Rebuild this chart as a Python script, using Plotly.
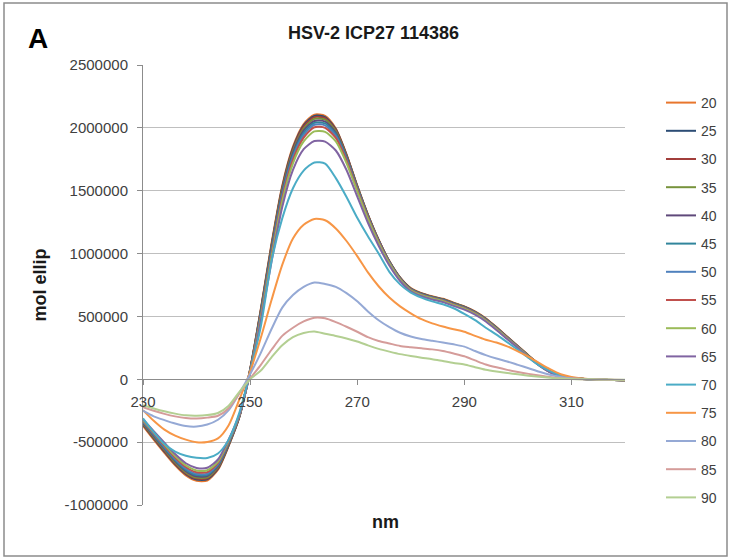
import plotly.graph_objects as go

# wavelength grid (nm)
wavelength = list(range(230, 321, 2))

# temperatures (legend labels)
temps = ["20", "25", "30", "35", "40", "45", "50", "55", "60", "65", "70", "75", "80", "85", "90"]

# molar ellipticity values, in thousands
s20 = [-370,-480,-585,-685,-765,-808,-805,-720,-530,-300,80,560,1080,1540,1850,2030,2105,2095,1995,1790,1540,1310,1110,940,810,725,685,660,640,610,580,540,485,415,340,265,190,120,65,30,12,4,0,-4,-6,-8]
s25 = [-360,-470,-575,-675,-755,-798,-796,-712,-525,-298,78,552,1068,1528,1838,2020,2095,2085,1988,1785,1538,1308,1108,938,808,722,682,657,637,607,577,537,482,412,337,262,188,118,63,29,11,4,0,-4,-6,-8]
s30 = [-355,-465,-568,-668,-748,-790,-788,-705,-520,-296,75,545,1058,1518,1828,2010,2085,2077,1982,1780,1535,1306,1106,936,806,720,680,655,635,605,575,535,480,410,335,260,186,117,62,28,11,4,0,-4,-6,-8]
s35 = [-350,-458,-560,-660,-740,-782,-780,-698,-515,-294,72,538,1048,1505,1815,1995,2072,2065,1972,1772,1530,1302,1103,934,805,719,679,654,634,604,574,534,479,409,334,259,185,116,61,28,11,4,0,-4,-6,-8]
s40 = [-345,-450,-552,-650,-730,-772,-770,-690,-510,-292,68,528,1035,1490,1800,1978,2055,2050,1960,1765,1525,1298,1100,932,803,717,677,652,632,602,572,532,477,407,332,258,184,115,60,27,10,3,0,-4,-6,-8]
s45 = [-340,-443,-545,-642,-720,-762,-760,-682,-505,-290,65,520,1022,1475,1782,1960,2040,2035,1948,1758,1520,1294,1097,930,801,715,675,650,630,600,570,530,476,406,331,257,183,114,60,27,10,3,0,-4,-6,-8]
s50 = [-335,-436,-537,-633,-710,-752,-750,-674,-500,-288,62,510,1008,1460,1765,1942,2025,2020,1935,1750,1515,1290,1094,928,799,713,673,648,628,598,568,528,474,404,330,256,182,113,59,26,10,3,0,-4,-6,-8]
s55 = [-330,-430,-528,-622,-698,-740,-738,-665,-494,-285,58,498,990,1440,1745,1922,2005,2000,1920,1740,1508,1285,1090,925,797,711,671,646,626,596,566,526,472,402,328,254,180,112,58,26,10,3,0,-4,-6,-8]
s60 = [-325,-422,-518,-610,-685,-725,-724,-655,-488,-282,54,485,970,1415,1718,1892,1972,1968,1892,1720,1495,1275,1083,920,793,708,668,643,622,592,562,522,468,399,325,252,179,111,58,25,9,3,0,-4,-6,-8]
s65 = [-318,-412,-505,-595,-668,-705,-704,-638,-478,-278,48,465,935,1370,1665,1830,1895,1890,1820,1665,1455,1245,1062,905,782,700,660,635,614,584,554,514,460,392,320,248,176,109,56,24,9,3,0,-4,-6,-8]
s70 = [-310,-420,-515,-575,-608,-625,-626,-590,-480,-265,55,420,940,1280,1520,1660,1725,1715,1600,1450,1285,1137,1000,855,755,690,650,620,597,565,520,470,410,355,295,235,170,110,65,30,12,4,0,-4,-6,-8]
s75 = [-245,-330,-400,-448,-480,-500,-498,-470,-365,-160,60,330,630,910,1120,1230,1275,1265,1200,1100,980,850,740,650,580,525,478,445,420,398,378,345,315,292,262,222,178,128,80,40,18,6,1,-3,-5,-7]
s80 = [-250,-295,-325,-352,-372,-376,-360,-322,-245,-110,40,210,400,570,670,735,770,758,735,685,620,540,470,415,370,340,320,306,293,278,260,225,192,165,142,115,88,60,36,18,8,3,0,-3,-5,-6]
s85 = [-222,-250,-275,-295,-308,-312,-305,-290,-230,-110,5,115,235,345,410,460,490,485,455,418,378,335,305,285,265,255,246,238,225,205,183,150,118,95,75,58,43,30,18,9,4,1,0,-2,-4,-5]
s90 = [-206,-232,-255,-273,-287,-290,-285,-268,-210,-100,0,70,175,270,335,368,380,362,345,325,300,270,242,220,200,185,172,160,145,130,118,96,76,62,50,40,29,20,12,6,2,0,0,-2,-3,-4]

series = [s20, s25, s30, s35, s40, s45, s50, s55, s60, s65, s70, s75, s80, s85, s90]

colors = ["#E8762D", "#2C4D75", "#A23E3B", "#77933C", "#5F497A", "#31859C", "#4F81BD",
          "#C0504D", "#9BBB59", "#8064A2", "#4BACC6", "#F79646", "#95A9D5", "#D59C9A", "#B3CF92"]

y_ticks = [-1000000, -500000, 0, 500000, 1000000, 1500000, 2000000, 2500000]
x_ticks = [230, 250, 270, 290, 310]

FONT = "Liberation Sans, Arial, sans-serif"
W, H = 730, 559
# plot area in page pixels
L, R, T, B = 143, 625, 65, 505


def px(xp):
    return (xp - L) / (R - L)


def py(yp):
    return (B - yp) / (B - T)


fig = go.Figure()
for name, vals, col in zip(temps, series, colors):
    fig.add_trace(go.Scatter(
        x=wavelength, y=[v * 1000 for v in vals], name=name, mode="lines",
        line=dict(color=col, width=2, shape="spline", smoothing=0.7),
        legendgroup=name,
    ))

ymin, ymax = -1000000, 2500000
zero_frac = (0 - ymin) / (ymax - ymin)

fig.update_layout(
    width=W, height=H,
    margin=dict(l=L, r=W - R, t=T, b=H - B, pad=0, autoexpand=False),
    paper_bgcolor="white", plot_bgcolor="white",
    font=dict(family=FONT, size=15, color="#404040"),
    showlegend=True,
    legend=dict(x=px(661), xanchor="left", y=py(87), yanchor="top",
                font=dict(family=FONT, size=14, color="#404040"),
                traceorder="grouped", tracegroupgap=7, bgcolor="rgba(0,0,0,0)"),
    xaxis=dict(range=[230, 320], tickvals=x_ticks, ticktext=[str(v) for v in x_ticks],
               anchor="free", position=zero_frac, showgrid=False, zeroline=False,
               showline=True, linecolor="#8c8c8c", linewidth=1,
               ticks="outside", ticklen=5, tickcolor="#8c8c8c", ticklabelstandoff=4,
               tickfont=dict(family=FONT, size=15, color="#404040")),
    yaxis=dict(range=[ymin, ymax], tickvals=y_ticks, ticktext=[str(v) for v in y_ticks],
               showgrid=True, gridcolor="#bfbfbf", gridwidth=1, zeroline=False,
               showline=True, linecolor="#8c8c8c", linewidth=1,
               ticks="outside", ticklen=5, tickcolor="#8c8c8c", ticklabelstandoff=6,
               tickfont=dict(family=FONT, size=15, color="#404040"),
               title=dict(text="<b>mol ellip</b>", standoff=13,
                          font=dict(family=FONT, size=18, color="#1a1a1a"))),
)

# chart title
fig.add_annotation(text="<b>HSV-2 ICP27 114386</b>", xref="paper", yref="paper",
                   x=px(373), y=py(33), xanchor="center", yanchor="middle",
                   showarrow=False, font=dict(family=FONT, size=18, color="#1a1a1a"))
# x-axis title (below plot area)
fig.add_annotation(text="<b>nm</b>", xref="paper", yref="paper",
                   x=px(385), y=py(522), xanchor="center", yanchor="middle",
                   showarrow=False, font=dict(family=FONT, size=18, color="#1a1a1a"))
# panel letter
fig.add_annotation(text="<b>A</b>", xref="paper", yref="paper",
                   x=px(38), y=py(38), xanchor="center", yanchor="middle",
                   showarrow=False, font=dict(family=FONT, size=28, color="black"))

# chart frame
fig.add_shape(type="rect", xref="paper", yref="paper",
              x0=px(4), x1=px(727), y0=py(556), y1=py(3),
              line=dict(color="#8c8c8c", width=1.5), fillcolor="rgba(0,0,0,0)", layer="below")

fig.write_html("out.html", config={"displayModeBar": False},
               post_script="document.body.style.margin='0';")
